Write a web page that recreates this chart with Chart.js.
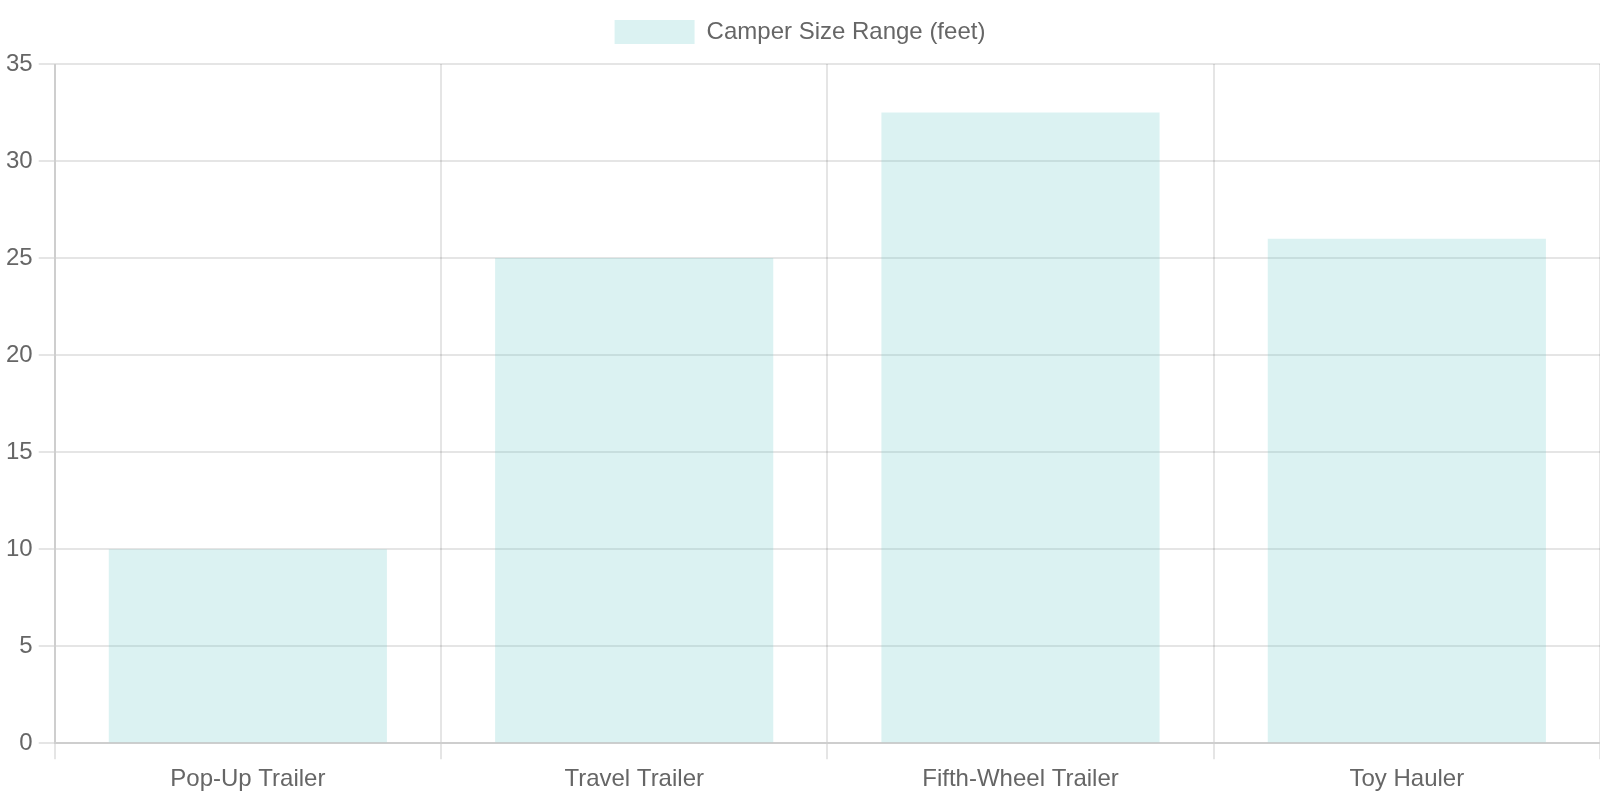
<!DOCTYPE html>
<html>
<head>
<meta charset="utf-8">
<title>Camper Size Range</title>
<script src="https://cdn.jsdelivr.net/npm/chart.js@4"></script>
<style>
  html, body { margin: 0; padding: 0; background: #fff; }
  #wrap { width: 1600px; height: 800px; }
</style>
</head>
<body>
<div id="wrap"><canvas id="camperChart"></canvas></div>
<script>
const categories = ['Pop-Up Trailer', 'Travel Trailer', 'Fifth-Wheel Trailer', 'Toy Hauler'];
const sizeValues = [10, 25, 32.5, 26];
const seriesLabel = 'Camper Size Range (feet)';

Chart.defaults.font.family = '"Liberation Sans", Arial, sans-serif';
Chart.defaults.font.size = 24;
Chart.defaults.color = '#666';

// legend adds a fixed 10px under itself, double it to match the 2x look
const legendGap = {
  id: 'legendGap',
  beforeInit(chart) {
    const fit = chart.legend.fit;
    chart.legend.fit = function () {
      fit.bind(chart.legend)();
      this.height += 10;
    };
  }
};

const data = {
  labels: categories,
  datasets: [{
    label: seriesLabel,
    data: sizeValues,
    backgroundColor: 'rgba(75, 192, 192, 0.2)',
    borderWidth: 0
  }]
};

const config = {
  type: 'bar',
  data: data,
  plugins: [legendGap],
  options: {
    responsive: true,
    maintainAspectRatio: false,
    animation: false,
    plugins: {
      legend: {
        labels: {
          boxWidth: 80,
          boxHeight: 24,
          padding: 20
        }
      },
      tooltip: { enabled: false }
    },
    scales: {
      x: {
        grid: { lineWidth: 2, tickLength: 16 },
        border: { width: 2 },
        ticks: { padding: 6 }
      },
      y: {
        beginAtZero: true,
        max: 35,
        grid: { lineWidth: 2, tickLength: 16 },
        border: { width: 2 },
        ticks: { stepSize: 5, padding: 6 }
      }
    }
  }
};

const camperChart = new Chart(document.getElementById('camperChart'), config);
</script>
</body>
</html>
